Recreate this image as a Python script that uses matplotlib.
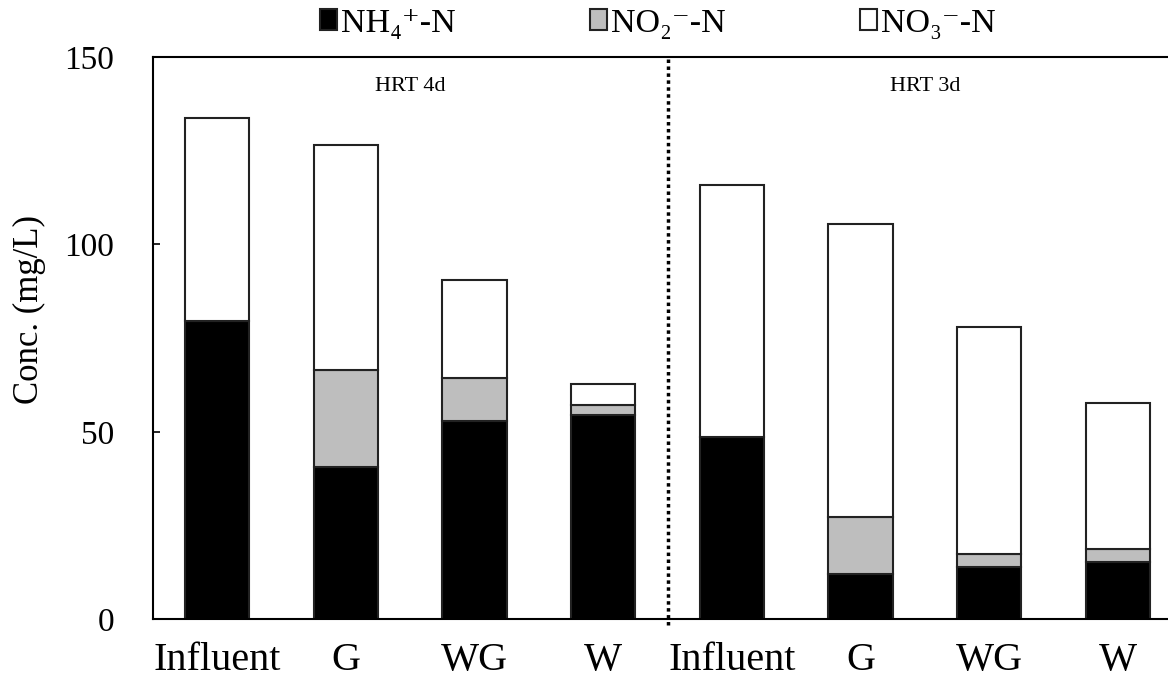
import numpy as np
import matplotlib
matplotlib.use("Agg")
import matplotlib.pyplot as plt
from matplotlib.patches import Patch

plt.rcParams['font.family'] = ['Liberation Serif', 'DejaVu Serif']

# Nitrogen species per reactor, HRT 4d then HRT 3d
categories = ['Influent', 'G', 'WG', 'W', 'Influent', 'G', 'WG', 'W']
nh4 = [79.5, 40.6, 52.9, 54.6, 48.6, 12.1, 14.1, 15.3]
no2 = [0.0, 26.0, 11.5, 2.5, 0.0, 15.3, 3.4, 3.4]
no3 = [54.1, 59.8, 26.0, 5.7, 67.3, 78.1, 60.5, 38.9]
series_names = ['NH\u2084\u207a-N', 'NO\u2082\u207b-N', 'NO\u2083\u207b-N']
hrt_labels = ['HRT 4d', 'HRT 3d']

fig = plt.figure(figsize=(11.68, 6.86), dpi=100)
ax = fig.add_axes([0.131, 0.097, 0.881, 0.820])

x = np.arange(len(categories))
w = 0.5
nh4 = np.array(nh4)
no2 = np.array(no2)
no3 = np.array(no3)

ax.bar(x, nh4, w, color='black', edgecolor='#222222', linewidth=1.5)
ax.bar(x, no2, w, bottom=nh4, color='#BEBEBE', edgecolor='#222222', linewidth=1.5)
ax.bar(x, no3, w, bottom=nh4 + no2, color='white', edgecolor='#222222', linewidth=1.5)

# dotted divider between the two HRT groups
ax.plot([3.5, 3.5], [-1.5, 150], color='black', linestyle=(0, (1, 1)),
        linewidth=2.5, clip_on=False)

ax.text(1.5, 142, hrt_labels[0], ha='center', va='center', fontsize=16)
ax.text(5.5, 142, hrt_labels[1], ha='center', va='center', fontsize=16)

ax.set_xlim(-0.5, 7.5)
ax.set_ylim(0, 150)
ax.set_yticks([0, 50, 100, 150])
ax.set_xticks(x)
ax.set_xticklabels(categories)
ax.tick_params(axis='x', length=0, labelsize=29, pad=16)
ax.tick_params(axis='y', direction='in', length=5, width=1.2, labelsize=24, pad=28)

fig.text(29 / 1168, 1 - 309 / 686, 'Conc. (mg/L)', rotation=90,
         ha='center', va='center', fontsize=25)

ax.spines['right'].set_visible(False)
for s in ['left', 'bottom', 'top']:
    ax.spines[s].set_linewidth(1.5)

handles = [Patch(facecolor=c, edgecolor='#222222', linewidth=1.5)
           for c in ['black', '#BEBEBE', 'white']]
fig.legend(handles, series_names, loc='center', bbox_to_anchor=(0.563, 0.966),
           ncol=3, frameon=False, fontsize=24.5, handlelength=0.5, handleheight=0.6,
           handletextpad=0.12, columnspacing=3.95, borderpad=0.1)

fig.savefig('out.png', dpi=100)
